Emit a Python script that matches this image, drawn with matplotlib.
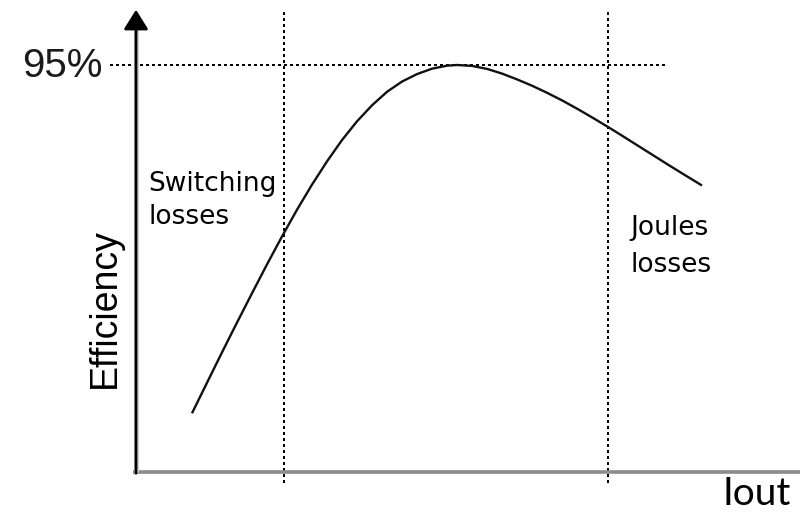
import matplotlib
matplotlib.use("Agg")
import matplotlib.pyplot as plt

# ---- data (Iout in arbitrary units, efficiency in %) ----
iout = [0.848, 1.076, 1.303, 1.530, 1.758, 1.985, 2.212, 2.439, 2.667, 2.894,
        3.121, 3.348, 3.576, 3.803, 4.030, 4.258, 4.485, 4.712, 4.864,
        5.091, 5.318, 5.545, 5.773, 6.000, 6.227, 6.455, 6.682, 6.909, 7.136,
        7.364, 7.591, 7.818, 8.045, 8.273, 8.576]
efficiency = [13.70, 20.84, 27.92, 34.87, 41.73, 48.46, 54.97, 61.20, 67.08, 72.50,
              77.47, 81.84, 85.59, 88.74, 91.13, 92.88, 94.14, 94.84, 95.00,
              94.79, 94.09, 93.00, 91.64, 90.17, 88.52, 86.74, 84.81, 82.78, 80.68,
              78.51, 76.30, 74.10, 71.89, 69.72, 66.87]
peak_eff = 95
peak_label = "95%"
region_bounds = [2.24, 7.15]
x_label = "Iout"
y_label = "Efficiency"
left_note = ["Switching", "losses"]
right_note = ["Joules", "losses"]

# ---- figure ----
fig = plt.figure(figsize=(8, 5.13), dpi=100)
ax = fig.add_axes([0, 0, 1, 1])
ax.set_xlim(-2.0606, 10.0606)
ax.set_ylim(-9.570, 110.17)
ax.axis("off")

# dotted guides
dot = dict(color="black", lw=1.5, linestyle=(0, (1, 1.7)), dash_capstyle="butt",
           antialiased=False)
ax.plot([-0.39, 8.05], [peak_eff, peak_eff], **dot)
for xb in region_bounds:
    ax.plot([xb, xb], [-2.57, 107.4], **dot)

# axes lines
ax.plot([-0.045, 10.2], [0, 0], color="#8a8a8a", lw=2.6, solid_capstyle="butt")
ax.plot([0, 0], [0, 104], color="#d0d0d0", lw=3.6, solid_capstyle="butt")
ax.annotate("", xy=(0, 107.9), xytext=(0, -0.3),
            arrowprops=dict(arrowstyle="-|>,head_length=1.2,head_width=0.75",
                            color="black", lw=2.0, shrinkA=0, shrinkB=0))
ax.annotate("", xy=(10.22, 0), xytext=(9.9, 0),
            arrowprops=dict(arrowstyle="-|>,head_length=1.2,head_width=0.6",
                            color="black", lw=0.5, shrinkA=0, shrinkB=0))

# curve
ax.plot(iout, efficiency, color="#111111", lw=1.7, solid_capstyle="butt",
        solid_joinstyle="round")

# text
ax.text(-0.515, 92.2, peak_label, ha="right", va="baseline",
        fontsize=29, family="Liberation Sans", color="#1a1a1a")
ax.text(-0.47, 38.3, y_label, rotation=90, ha="center", va="center",
        fontsize=27, family="Liberation Sans", color="black")
ax.text(0.182, 65.6, left_note[0], ha="left", va="baseline", fontsize=19,
        family="DejaVu Sans", color="black")
ax.text(0.182, 57.9, left_note[1], ha="left", va="baseline", fontsize=19,
        family="DejaVu Sans", color="black")
ax.text(7.485, 55.3, right_note[0], ha="left", va="baseline", fontsize=19,
        family="DejaVu Sans", color="black")
ax.text(7.485, 46.7, right_note[1], ha="left", va="baseline", fontsize=19,
        family="DejaVu Sans", color="black")
ax.text(8.879, -7.70, x_label, ha="left", va="baseline", fontsize=28,
        family="Lato", color="black")

fig.savefig("out.png", dpi=100)
